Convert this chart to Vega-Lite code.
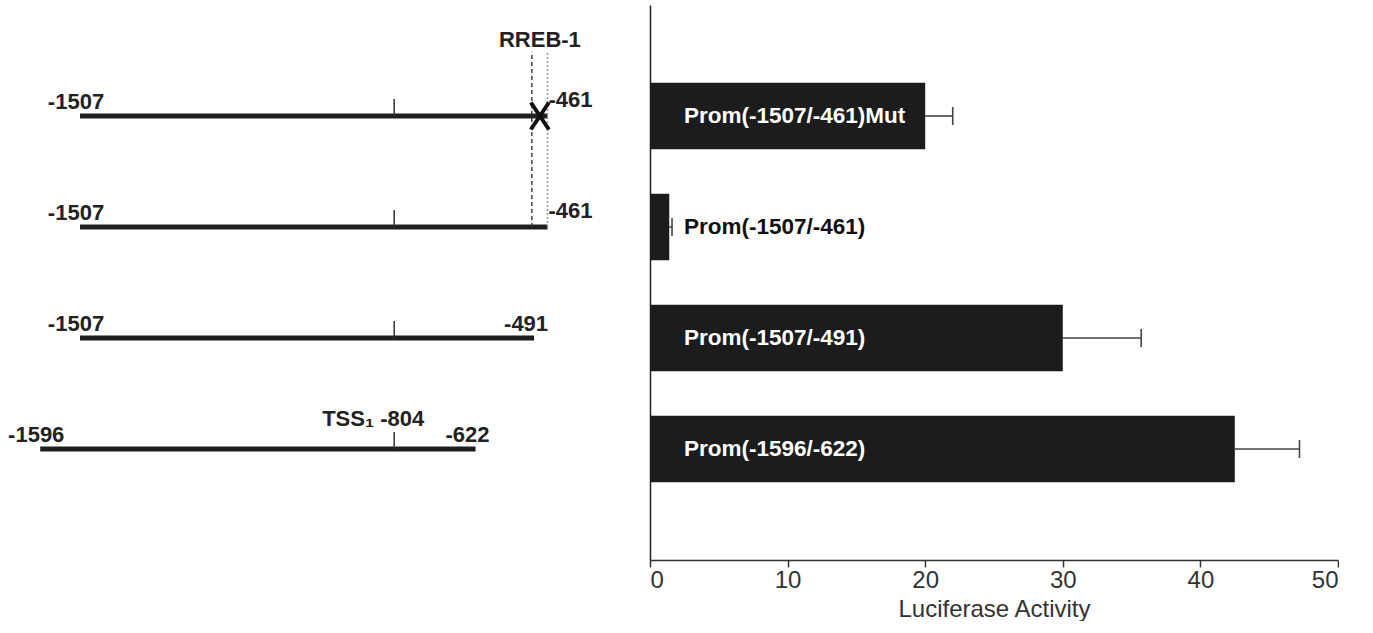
{
  "$schema": "https://vega.github.io/schema/vega-lite/v6.json",
  "padding": {"left": 0, "top": 5, "right": 0, "bottom": 0},
  "background": "white",
  "config": {
    "view": {"stroke": null},
    "font": "Liberation Sans",
    "concat": {"spacing": 9}
  },
  "datasets": {
    "bars": [
      {"construct": "Prom(-1507/-461)Mut", "activity": 20.0, "upper": 22.0},
      {"construct": "Prom(-1507/-461)", "activity": 1.4, "upper": 1.6},
      {"construct": "Prom(-1507/-491)", "activity": 30.0, "upper": 35.7},
      {"construct": "Prom(-1596/-622)", "activity": 42.5, "upper": 47.2}
    ],
    "segments": [
      {"row": 1, "start": -1507, "end": -461, "startLabel": "-1507", "endLabel": "-461", "tss": -804},
      {"row": 2, "start": -1507, "end": -461, "startLabel": "-1507", "endLabel": "-461", "tss": -804},
      {"row": 3, "start": -1507, "end": -491, "startLabel": "-1507", "endLabel": "-491", "tss": -804},
      {"row": 4, "start": -1596, "end": -622, "startLabel": "-1596", "endLabel": "-622", "tss": -804}
    ],
    "site": [
      {"label": "RREB-1", "start": -496, "end": -461, "mutation": -478, "row": 1, "lastRow": 2}
    ],
    "tss": [
      {"row": 4, "pos": -804, "label": "TSS₁ -804"}
    ]
  },
  "hconcat": [
    {
      "width": 640,
      "height": 555,
      "layer": [
        {
          "data": {"name": "segments"},
          "mark": {"type": "rule", "color": "#1e1e1e", "strokeWidth": 5},
          "encoding": {
            "x": {"field": "start", "type": "quantitative", "scale": {"domain": [-1686, -254], "nice": false, "zero": false}, "axis": null},
            "x2": {"field": "end"},
            "y": {"field": "row", "type": "quantitative", "scale": {"domain": [0, 5], "reverse": true, "nice": false, "zero": false}, "axis": null}
          }
        },
        {
          "data": {"name": "site"},
          "mark": {"type": "rule", "color": "#333", "strokeWidth": 1.4, "strokeDash": [4, 3]},
          "encoding": {
            "x": {"field": "start", "type": "quantitative"},
            "y": {"field": "lastRow", "type": "quantitative"},
            "y2": {"datum": 0.42}
          }
        },
        {
          "data": {"name": "site"},
          "mark": {"type": "rule", "color": "#999", "strokeWidth": 1.6, "strokeDash": [2, 2]},
          "encoding": {
            "x": {"field": "end", "type": "quantitative"},
            "y": {"field": "lastRow", "type": "quantitative"},
            "y2": {"datum": 0.42}
          }
        },
        {
          "data": {"name": "segments"},
          "mark": {"type": "point", "shape": "M0,0L0,-1", "size": 1156, "filled": false, "stroke": "#333", "strokeWidth": 1.5, "opacity": 1},
          "encoding": {
            "x": {"field": "tss", "type": "quantitative"},
            "y": {"field": "row", "type": "quantitative"}
          }
        },
        {
          "data": {"name": "segments"},
          "mark": {"type": "text", "align": "center", "baseline": "alphabetic", "dx": -4, "dy": -7, "fontSize": 22, "fontWeight": "bold", "color": "#222"},
          "encoding": {
            "x": {"field": "start", "type": "quantitative"},
            "y": {"field": "row", "type": "quantitative"},
            "text": {"field": "startLabel"}
          }
        },
        {
          "data": {"name": "segments"},
          "transform": [{"filter": "datum.row <= 2"}],
          "mark": {"type": "text", "align": "left", "baseline": "alphabetic", "dx": 1, "dy": -9, "fontSize": 22, "fontWeight": "bold", "color": "#222"},
          "encoding": {
            "x": {"field": "end", "type": "quantitative"},
            "y": {"field": "row", "type": "quantitative"},
            "text": {"field": "endLabel"}
          }
        },
        {
          "data": {"name": "segments"},
          "transform": [{"filter": "datum.row > 2"}],
          "mark": {"type": "text", "align": "center", "baseline": "alphabetic", "dx": -8, "dy": -7, "fontSize": 22, "fontWeight": "bold", "color": "#222"},
          "encoding": {
            "x": {"field": "end", "type": "quantitative"},
            "y": {"field": "row", "type": "quantitative"},
            "text": {"field": "endLabel"}
          }
        },
        {
          "data": {"name": "site"},
          "mark": {"type": "point", "shape": "M-0.67,-1L0.67,1M0.67,-1L-0.67,1", "size": 729, "filled": false, "stroke": "#111", "strokeWidth": 4, "opacity": 1},
          "encoding": {
            "x": {"field": "mutation", "type": "quantitative"},
            "y": {"field": "row", "type": "quantitative"}
          }
        },
        {
          "data": {"name": "site"},
          "mark": {"type": "text", "align": "center", "baseline": "alphabetic", "dy": -69, "fontSize": 22, "fontWeight": "bold", "color": "#222"},
          "encoding": {
            "x": {"field": "mutation", "type": "quantitative"},
            "y": {"field": "row", "type": "quantitative"},
            "text": {"field": "label"}
          }
        },
        {
          "data": {"name": "tss"},
          "mark": {"type": "text", "align": "center", "baseline": "alphabetic", "dx": -21, "dy": -23, "fontSize": 22, "fontWeight": "bold", "color": "#222"},
          "encoding": {
            "x": {"field": "pos", "type": "quantitative"},
            "y": {"field": "row", "type": "quantitative"},
            "text": {"field": "label"}
          }
        }
      ]
    },
    {
      "width": 688,
      "height": 555,
      "data": {"name": "bars"},
      "encoding": {
        "y": {
          "field": "construct", "type": "nominal", "sort": null,
          "scale": {"paddingInner": 0.4, "paddingOuter": 0.7},
          "axis": {"labels": false, "ticks": false, "title": null, "domainColor": "#222", "domainWidth": 1.5}
        }
      },
      "layer": [
        {
          "mark": {"type": "bar", "color": "#1c1c1c"},
          "encoding": {
            "x": {
              "field": "activity", "type": "quantitative",
              "scale": {"domain": [0, 50], "nice": false},
              "axis": {
                "values": [0, 10, 20, 30, 40, 50],
                "title": "Luciferase Activity",
                "titleFontSize": 24, "titleFontWeight": "normal", "titleColor": "#333", "titlePadding": 5,
                "labelFontSize": 24, "labelColor": "#333", "labelPadding": 1,
                "tickColor": "#333", "tickSize": 7, "tickWidth": 1.5,
                "domainColor": "#333", "domainWidth": 1.5, "grid": false
              }
            }
          }
        },
        {
          "mark": {"type": "rule", "color": "#444", "strokeWidth": 1.6},
          "encoding": {
            "x": {"field": "activity", "type": "quantitative"},
            "x2": {"field": "upper"}
          }
        },
        {
          "mark": {"type": "tick", "color": "#444", "thickness": 1.6, "size": 18, "opacity": 1},
          "encoding": {
            "x": {"field": "upper", "type": "quantitative"}
          }
        },
        {
          "mark": {"type": "text", "align": "left", "baseline": "middle", "dx": 34, "fontSize": 22.5, "fontWeight": "bold"},
          "encoding": {
            "x": {"datum": 0, "type": "quantitative"},
            "text": {"field": "construct"},
            "color": {"condition": {"test": "datum.activity < 5", "value": "#111"}, "value": "white"}
          }
        }
      ]
    }
  ]
}
